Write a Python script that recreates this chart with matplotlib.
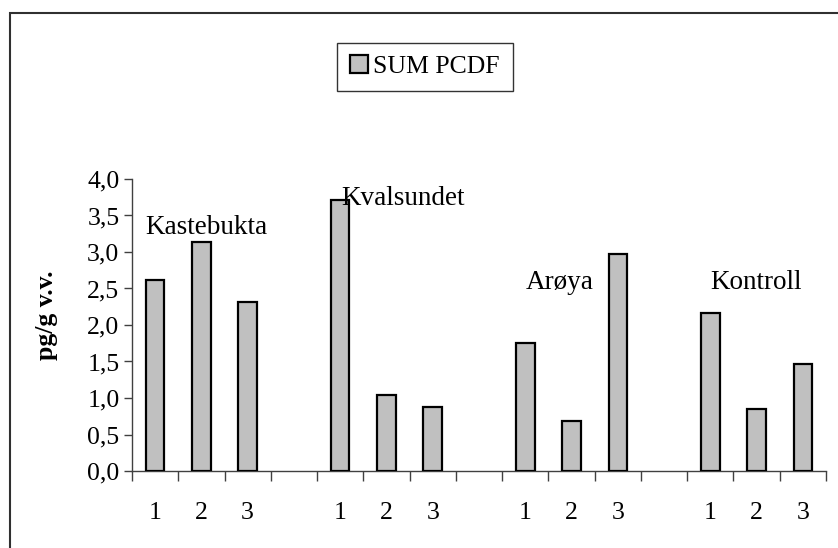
import matplotlib
matplotlib.use('Agg')
import matplotlib.pyplot as plt
from matplotlib.patches import Rectangle

plt.rcParams['font.family'] = ['Liberation Serif', 'DejaVu Serif']

# data
x_labels = ['1', '2', '3', '', '1', '2', '3', '', '1', '2', '3', '', '1', '2', '3']
sum_pcdf = [2.61, 3.13, 2.31, None, 3.71, 1.04, 0.88, None,
            1.76, 0.69, 2.97, None, 2.17, 0.85, 1.46]
sites = ['Kastebukta', 'Kvalsundet', 'Arøya', 'Kontroll']
site_x = [1.11, 5.36, 8.74, 12.99]
site_y = [3.24, 3.64, 2.49, 2.49]
y_ticks = [0.0, 0.5, 1.0, 1.5, 2.0, 2.5, 3.0, 3.5, 4.0]

fig = plt.figure(figsize=(8.38, 5.48), dpi=100)
ax = fig.add_axes([0.1575, 0.1405, 0.8282, 0.5329])

xs = [i for i, v in enumerate(sum_pcdf) if v is not None]
vals = [v for v in sum_pcdf if v is not None]
ax.bar(xs, vals, width=0.4, color='#c0c0c0', edgecolor='black',
       linewidth=1.6, label='SUM PCDF', zorder=3)

for name, sx, sy in zip(sites, site_x, site_y):
    ax.text(sx, sy, name, ha='center', va='baseline', fontsize=19.5)

ax.set_xlim(-0.5, 14.5)
ax.set_ylim(0, 4)
ax.set_xticks(range(len(x_labels)))
ax.set_xticklabels(x_labels, fontsize=18.5)
ax.set_xticks([i - 0.5 for i in range(len(x_labels) + 1)], minor=True)
ax.tick_params(axis='x', which='major', length=0, pad=22)
ax.tick_params(axis='x', which='minor', length=7, color='#404040', width=1)
ax.set_yticks(y_ticks)
ax.set_yticklabels([f'{t:.1f}'.replace('.', ',') for t in y_ticks], fontsize=18.5)
ax.tick_params(axis='y', length=6, color='#404040', width=1, pad=3)

for s in ['top', 'right']:
    ax.spines[s].set_visible(False)
for s in ['left', 'bottom']:
    ax.spines[s].set_color('#404040')
    ax.spines[s].set_linewidth(1)

ax.set_ylabel('pg/g v.v.', fontsize=18.5, fontweight='bold')
ax.yaxis.set_label_coords(-0.107, 0.534)

leg = fig.legend(loc='center', bbox_to_anchor=(0.507, 0.878), fontsize=18.5,
                 frameon=True, fancybox=False, edgecolor='black',
                 handlelength=0.7, handleheight=0.7, handletextpad=0.2,
                 borderpad=0.5, borderaxespad=0)
leg.get_frame().set_linewidth(1)

# outer chart border
fig.patches.append(Rectangle((10 / 838, -0.1), 1.2, 1 - 13 / 548 + 0.1,
                             transform=fig.transFigure, fill=False,
                             edgecolor='#303030', linewidth=1.5))

fig.savefig('out.png', dpi=100)
